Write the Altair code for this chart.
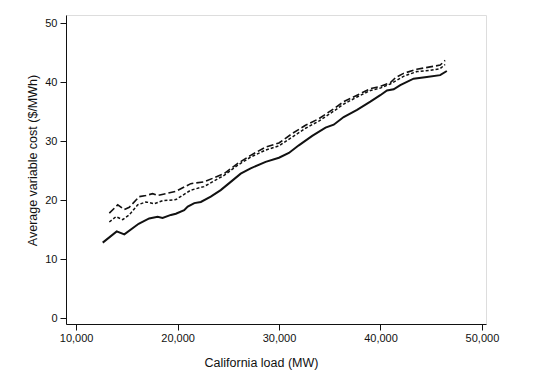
import altair as alt
import pandas as pd

# Solid line
solid_load = [12620, 14000, 14750, 16160, 17200, 18030, 18520, 19340, 19830, 20650, 21000,
              21650, 22290, 23270, 24250, 25240, 26220, 27200, 28680, 29990, 30970, 31950,
              33270, 34580, 35390, 36370, 37690, 39000, 39980, 40640, 41300, 41950, 43260,
              44570, 45880, 46540]
solid_cost = [12.8, 14.7, 14.2, 16.0, 16.9, 17.2, 17.0, 17.5, 17.7, 18.3, 18.9,
              19.5, 19.7, 20.6, 21.7, 23.1, 24.5, 25.4, 26.5, 27.2, 28.0, 29.3,
              30.9, 32.3, 32.8, 34.1, 35.3, 36.7, 37.8, 38.6, 38.8, 39.5, 40.6,
              40.9, 41.2, 41.9]

# Long-dashed line (upper)
long_load = [13270, 14100, 14750, 15240, 16220, 16880, 17540, 18030, 18850, 19830, 21300,
             22600, 24580, 25900, 27200, 28680, 29990, 31300, 32610, 33920, 35390, 36370,
             37690, 39000, 39980, 40960, 41500, 42270, 43580, 44890, 45880, 46370]
long_cost = [17.8, 19.2, 18.4, 18.8, 20.6, 20.8, 21.1, 20.8, 21.1, 21.5, 22.8,
             23.1, 24.5, 26.2, 27.6, 29.0, 29.7, 31.3, 32.7, 33.8, 35.5, 36.7,
             37.8, 38.9, 39.3, 39.9, 40.8, 41.5, 42.2, 42.6, 42.9, 43.7]

# Short-dashed line (middle)
short_load = [13270, 13930, 14590, 15240, 16060, 16880, 17700, 18520, 19830, 21300, 22600,
              24580, 25900, 27200, 28680, 29990, 31300, 32610, 33920, 35390, 36370, 37690,
              39000, 39980, 40960, 42270, 43580, 44890, 45880, 46370]
short_cost = [16.3, 17.2, 16.7, 17.5, 19.2, 19.7, 19.4, 19.9, 20.1, 21.7, 22.3,
              24.2, 25.9, 27.3, 28.5, 29.2, 30.7, 32.2, 33.4, 35.1, 36.3, 37.5,
              38.6, 39.0, 39.7, 41.0, 41.8, 42.0, 42.3, 43.0]

x_ticks = [10000, 20000, 30000, 40000, 50000]
y_ticks = [0, 10, 20, 30, 40, 50]

FONT = "Liberation Sans"

x_enc = alt.X(
    "load:Q",
    scale=alt.Scale(domain=[9000, 50400], nice=False, zero=False),
    axis=alt.Axis(
        values=x_ticks, format=",d", title="California load (MW)",
        grid=False, labelFont=FONT, labelFontSize=11, labelColor="#111",
        titleFont=FONT, titleFontSize=12.5, titleFontWeight="normal", titleColor="#111",
        domainColor="#111", tickColor="#111", tickSize=6, labelPadding=2,
        titleX=195, titleY=42, titleBaseline="alphabetic", titleAlign="center",
    ),
)
y_enc = alt.Y(
    "cost:Q",
    scale=alt.Scale(domain=[-1, 51.4], nice=False, zero=False),
    axis=alt.Axis(
        values=y_ticks, title="Average variable cost ($/MWh)",
        grid=False, labelFont=FONT, labelFontSize=11, labelColor="#111", labelAngle=0,
        titleFont=FONT, titleFontSize=12.5, titleFontWeight="normal", titleColor="#111",
        domainColor="#111", tickColor="#111", tickSize=6, labelPadding=3,
        titleAngle=270, titleX=-34, titleY=145, titleBaseline="middle", titleAlign="center",
    ),
)


def line(load, cost, width, dash=None):
    df = pd.DataFrame({"load": load, "cost": cost})
    kw = dict(color="#111", strokeWidth=width)
    if dash is not None:
        kw["strokeDash"] = dash
    return alt.Chart(df).mark_line(**kw).encode(x=x_enc, y=y_enc)


chart = alt.layer(
    line(solid_load, solid_cost, 2.0),
    line(long_load, long_cost, 1.6, [7, 3]),
    line(short_load, short_cost, 1.5, [3, 2]),
).properties(
    width=420, height=309,
    autosize=alt.AutoSizeParams(type="none"),
    padding={"left": 58, "top": 7, "right": 55, "bottom": 48},
).configure_view(stroke=None).configure(background="white")

chart.save("out.html", embed_options={"renderer": "svg", "actions": False})
